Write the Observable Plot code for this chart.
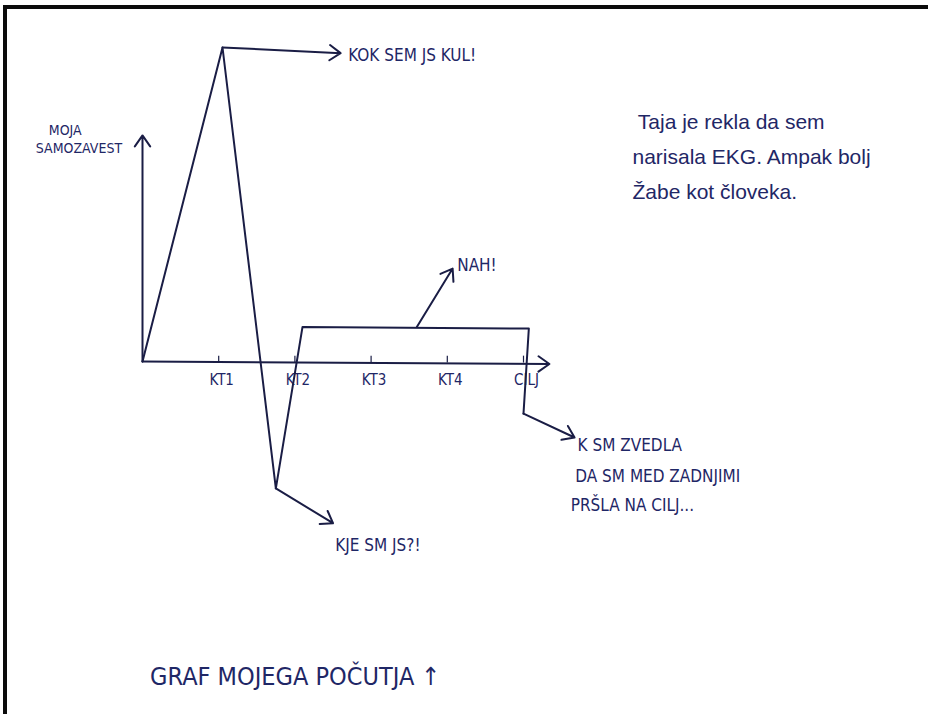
<!DOCTYPE html>
<html>
<head>
<meta charset="utf-8">
<script src="https://cdn.jsdelivr.net/npm/d3@7"></script>
<script src="https://cdn.jsdelivr.net/npm/@observablehq/plot@0.6"></script>
<style>
  html, body { margin: 0; padding: 0; background: #fff; }
  #wrap { position: relative; width: 928px; height: 714px; overflow: hidden; }
  #frame { position: absolute; left: 3px; top: 5px; right: -10px; bottom: -10px;
           border-top: 4px solid #0b0b0b; border-left: 4px solid #0b0b0b; pointer-events: none; }
</style>
</head>
<body>
<div id="wrap"><div id="frame"></div></div>
<script>
// Checkpoints along the course (x) and self-confidence (y)
const xTicks = [1, 2, 3, 4, 5];
const xTickLabels = ["KT1", "KT2", "KT3", "KT4", "CILJ"];

// The confidence curve
const curveX = [0, 1.05, 1.75, 2.1, 5.07, 5.0];
const curveY = [0, 10, -4.04, 1.1, 1.05, -1.66];

// Axis arrows
const axisX1 = [0, 0];
const axisY1 = [0, 0];
const axisX2 = [5.34, 0];
const axisY2 = [-0.08, 7.2];

// Annotation arrows
const noteArrowX1 = [1.05, 3.6, 1.75, 5.0];
const noteArrowY1 = [10, 1.1, -4.04, -1.66];
const noteArrowX2 = [2.6, 4.07, 2.5, 5.67];
const noteArrowY2 = [9.82, 2.96, -5.15, -2.42];

// Annotation texts
const noteTexts = ["KOK SEM JS KUL!", "NAH!", "KJE SM JS?!", "K SM ZVEDLA", "DA SM MED ZADNJIMI", "PRŠLA NA CILJ..."];
const noteX = [2.7, 4.13, 2.53, 5.71, 5.68, 5.62];
const noteY = [9.75, 3.06, -5.86, -2.68, -3.66, -4.59];

// Y axis label
const yLabelLines = ["MOJA", "SAMOZAVEST"];
const yLabelX = [-1.23, -1.40];
const yLabelY = [7.36, 6.78];

// Side comment
const commentLines = ["Taja je rekla da sem", "narisala EKG. Ampak bolj", "Žabe kot človeka."];
const commentX = [6.5, 6.43, 6.43];
const commentY = [7.61, 6.5, 5.38];

// Title
const titleText = ["GRAF MOJEGA POČUTJA ↑"];
const titleX = [0.1];
const titleY = [-10.06];

const ink = "#1a1d45";
const pen = "#1f2766";
const narrow = "'Liberation Sans Narrow', 'DejaVu Sans Condensed', 'Liberation Sans', sans-serif";

const curve = curveX.map((x, i) => ({x, y: curveY[i]}));
const axes = axisX1.map((x1, i) => ({x1, y1: axisY1[i], x2: axisX2[i], y2: axisY2[i]}));
const noteArrows = noteArrowX1.map((x1, i) => ({x1, y1: noteArrowY1[i], x2: noteArrowX2[i], y2: noteArrowY2[i]}));
const notes = noteTexts.map((t, i) => ({t, x: noteX[i], y: noteY[i]}));
const yLabel = yLabelLines.map((t, i) => ({t, x: yLabelX[i], y: yLabelY[i]}));
const comment = commentLines.map((t, i) => ({t, x: commentX[i], y: commentY[i]}));
const title = titleText.map((t, i) => ({t, x: titleX[i], y: titleY[i]}));
const ticks = xTicks.map((x, i) => ({x, label: xTickLabels[i]}));

const chart = Plot.plot({
  width: 928,
  height: 714,
  x: {domain: [0, 5], range: [142, 523], axis: null},
  y: {domain: [0, 10], range: [361, 47], axis: null},
  style: {background: "transparent"},
  marks: [
    Plot.arrow(axes, {x1: "x1", y1: "y1", x2: "x2", y2: "y2", stroke: ink, strokeWidth: 2, headLength: 10, headAngle: 70}),
    Plot.ruleX(ticks, {x: "x", y1: -0.05, y2: 0.17, stroke: ink, strokeWidth: 1.2}),
    Plot.text(ticks, {x: "x", y: 0, text: "label", dy: 19, dx: 3, fontSize: 15, fill: pen, fontFamily: narrow}),
    Plot.line(curve, {x: "x", y: "y", stroke: ink, strokeWidth: 2, curve: "linear"}),
    Plot.arrow(noteArrows, {x1: "x1", y1: "y1", x2: "x2", y2: "y2", stroke: ink, strokeWidth: 2, headLength: 10, headAngle: 70}),
    Plot.text(notes, {x: "x", y: "y", text: "t", textAnchor: "start", fontSize: 17, fill: pen, fontFamily: narrow}),
    Plot.text(yLabel, {x: "x", y: "y", text: "t", textAnchor: "start", fontSize: 14, fill: pen, fontFamily: narrow}),
    Plot.text(comment, {x: "x", y: "y", text: "t", textAnchor: "start", fontSize: 21, fill: pen, fontFamily: "'Liberation Sans', sans-serif"}),
    Plot.text(title, {x: "x", y: "y", text: "t", textAnchor: "start", fontSize: 25, fill: pen, fontFamily: narrow})
  ]
});
chart.style.position = "absolute";
chart.style.left = "0px";
chart.style.top = "0px";
document.getElementById("wrap").prepend(chart);
</script>
</body>
</html>
